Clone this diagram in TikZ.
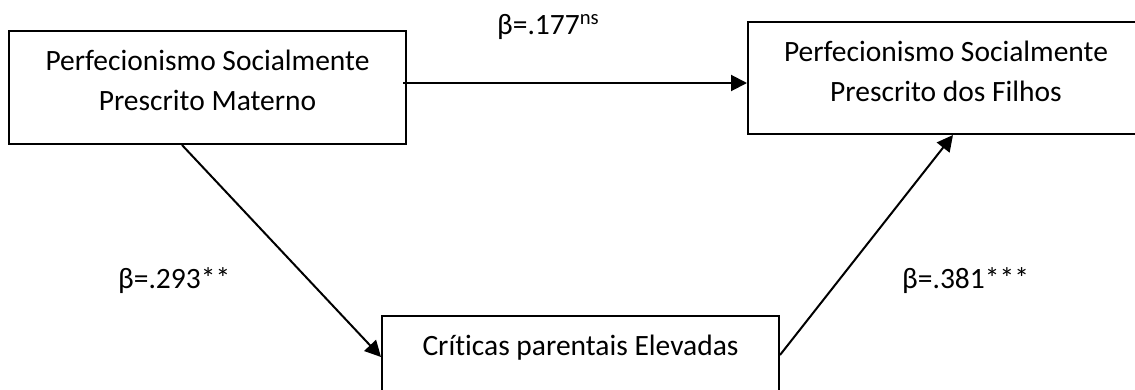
\documentclass[tikz,border=0pt]{standalone}
\usepackage{fontspec}
\setmainfont{Carlito}[Ligatures=NoCommon]
\usetikzlibrary{arrows.meta}
\begin{document}
\begin{tikzpicture}[x=1pt,y=-1pt,
  box/.style={draw=black,line width=2pt,rectangle,inner sep=0pt},
  boxtext/.style={font=\fontsize{29.5}{40}\selectfont,align=center,anchor=base,inner sep=0pt},
  lab/.style={font=\fontsize{29.5}{34}\selectfont,anchor=base west,inner sep=0pt},
  arr/.style={line width=2pt,-{Triangle[length=16pt,width=16pt]}}]
\useasboundingbox (0,0) rectangle (1135,389);
\clip (0,0) rectangle (1135,389);
\node[box,minimum width=397pt,minimum height=113pt] (A) at (207.5,87.5) {};
\node[box,minimum width=396pt,minimum height=112pt] (B) at (946,78) {};
\node[box,minimum width=397pt,minimum height=82pt] (C) at (580.5,357) {};
\node[boxtext] (At1) at (207.5,70) {Perfecionismo Socialmente};
\node[boxtext] (At2) at (207.5,110) {Prescrito Materno};
\node[boxtext] (Bt1) at (946,61.5) {Perfecionismo Socialmente};
\node[boxtext] (Bt2) at (946,101) {Prescrito dos Filhos};
\node[boxtext] (Ct) at (580.5,355.5) {Críticas parentais Elevadas};
\node[lab] (l1) at (497,34) {β=.177\textsuperscript{ns}};
\node[lab] (l2) at (118,288) {β=.293**};
\node[lab] (l3) at (902,288) {β=.381***};
\draw[arr] ([xshift=-4pt,yshift=4.5pt]A.east) -- ([yshift=-5pt]B.west);
\draw[arr] ([xshift=-25.5pt]A.south) -- (C.west);
\draw[arr] ([yshift=2pt]C.east) -- ([xshift=7pt]B.south);
\end{tikzpicture}
\end{document}
